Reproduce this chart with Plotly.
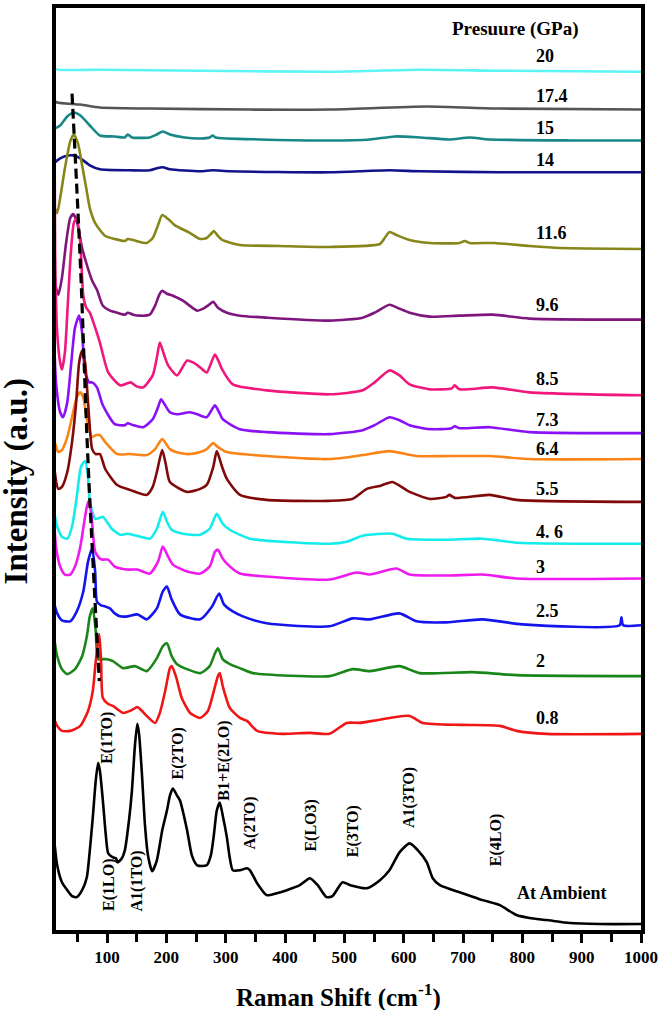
import plotly.graph_objects as go

FONT = "Liberation Serif, Times New Roman, serif"

# ---------------- data (Raman shift in cm^-1, intensity in a.u., stacked) ----------------
x_20 = [10, 12, 88, 257, 475, 627, 762, 1000]
y_20 = [874, 867, 866, 865, 864, 866, 865, 864]

x_174 = [11, 16, 55, 88, 172, 341, 475, 639, 762, 1000]
y_174 = [835, 833, 831, 828, 827, 826, 826, 829, 827, 826]

x_15 = [12, 21, 33, 44, 55, 71, 88, 113, 130, 135, 142, 172, 184, 194, 206, 231, 257, 273, 278, 283,
        358, 475, 543, 585, 627, 677, 711, 745, 880, 1000]
y_15 = [807, 810, 819, 823, 820, 810, 800, 799, 798, 801, 798, 798, 801, 804, 801, 798, 797, 798, 800, 798,
        796, 795, 796, 799, 798, 796, 798, 796, 795, 795]

x_14 = [11, 16, 29, 43, 55, 71, 88, 139, 172, 184, 194, 206, 257, 278, 307, 475, 576, 627, 762, 1000]
y_14 = [772, 775, 779, 780, 777, 770, 766, 765, 765, 767, 768, 766, 764, 765, 764, 763, 765, 764, 763, 763]

x_116 = [12, 16, 21, 29, 38, 44, 51, 58, 65, 71, 80, 97, 113, 130, 135, 144, 156, 167, 177, 186, 193, 203,
         214, 240, 257, 268, 275, 280, 287, 294, 324, 391, 475, 560, 568, 576, 588, 610, 644, 694, 703, 711,
         753, 812, 863, 1000]
y_116 = [727, 722, 737, 767, 794, 801, 792, 770, 747, 727, 712, 699, 696, 694, 696, 695, 693, 692, 697, 710,
         720, 716, 710, 702, 696, 697, 701, 704, 699, 695, 690, 689, 688, 691, 697, 703, 700, 695, 692, 692,
         694, 692, 692, 689, 687, 686]

x_96 = [12, 18, 24, 31, 38, 43, 49, 58, 66, 75, 83, 93, 105, 117, 130, 135, 144, 156, 172, 181, 188, 193,
        201, 211, 228, 252, 262, 272, 279, 287, 302, 324, 369, 475, 531, 551, 576, 593, 610, 644, 694, 750,
        812, 1000]
y_96 = [652, 640, 657, 692, 717, 721, 714, 687, 670, 654, 645, 629, 624, 622, 620, 622, 620, 619, 620, 629,
        640, 644, 641, 639, 634, 624, 626, 630, 633, 627, 622, 619, 617, 614, 617, 622, 630, 626, 622, 618,
        619, 620, 616, 615]

x_85 = [11, 12.5, 16, 21, 24, 29, 34, 39, 44, 49, 55, 60, 65, 71, 80, 88, 102, 122, 134, 140, 150, 161, 177,
        184, 189, 196, 203, 218, 235, 245, 257, 268, 277, 282, 289, 294, 312, 369, 475, 531, 551, 576, 593,
        610, 644, 681, 686, 694, 750, 812, 1000]
y_85 = [862, 682, 602, 572, 565, 582, 632, 682, 712, 717, 692, 639, 627, 622, 607, 592, 562, 549, 551, 552,
        548, 547, 559, 577, 592, 580, 569, 559, 574, 572, 567, 562, 574, 580, 572, 565, 550, 544, 540, 544,
        552, 564, 559, 550, 545, 546, 549, 545, 547, 542, 539]

x_73 = [11, 14, 21, 26, 33, 39, 46, 53, 58, 63, 70, 75, 83, 93, 113, 130, 135, 144, 161, 177, 186, 191, 198,
        206, 218, 240, 252, 268, 277, 282, 289, 295, 324, 369, 475, 531, 551, 576, 593, 610, 644, 681, 686,
        694, 745, 812, 1000]
y_73 = [592, 552, 522, 517, 532, 567, 607, 619, 602, 562, 552, 552, 547, 529, 510, 509, 511, 509, 507, 515,
        527, 535, 529, 522, 520, 522, 520, 517, 525, 529, 522, 515, 505, 502, 500, 504, 509, 517, 514, 509,
        505, 506, 508, 506, 507, 502, 501]

x_64 = [10, 12, 18, 24, 33, 41, 49, 55, 60, 66, 75, 81, 88, 97, 117, 139, 167, 181, 193, 206, 223, 240, 257,
        268, 279, 287, 302, 369, 475, 531, 576, 622, 681, 745, 812, 1000]
y_64 = [512, 492, 482, 484, 497, 517, 537, 542, 537, 515, 497, 499, 499, 492, 480, 480, 479, 485, 495, 485,
        481, 480, 482, 485, 491, 487, 482, 478, 475, 479, 483, 478, 478, 478, 475, 475]

x_55 = [10, 12, 18, 24, 33, 41, 48, 53, 58, 63, 68, 75, 81, 88, 97, 117, 139, 167, 177, 184, 193, 199, 206,
        235, 257, 268, 279, 285, 294, 302, 324, 369, 475, 514, 538, 560, 581, 610, 644, 672, 677, 686, 745,
        790, 1000]
y_55 = [492, 462, 445, 447, 462, 492, 532, 572, 584, 572, 532, 485, 480, 480, 465, 449, 444, 439, 447, 462,
        484, 470, 452, 442, 445, 449, 467, 483, 467, 455, 439, 434, 433, 435, 445, 448, 452, 442, 435, 437,
        439, 436, 439, 434, 432]

x_46 = [10, 16, 24, 33, 41, 49, 56, 63, 68, 71, 80, 88, 93, 102, 108, 122, 135, 156, 172, 184, 194, 201, 209,
        228, 257, 273, 285, 295, 307, 341, 475, 504, 531, 581, 605, 672, 733, 790, 1000]
y_46 = [425, 407, 397, 395, 407, 437, 467, 473, 457, 432, 415, 416, 417, 410, 405, 399, 400, 397, 395, 405,
        422, 412, 404, 400, 399, 405, 420, 410, 404, 395, 390, 392, 398, 400, 395, 394, 395, 391, 390]

x_3 = [10, 14, 21, 29, 38, 46, 55, 63, 68, 73, 80, 88, 93, 102, 113, 134, 151, 172, 186, 194, 203, 211, 235,
       257, 273, 282, 287, 294, 302, 324, 369, 475, 521, 543, 588, 610, 672, 733, 790, 1000]
y_3 = [422, 387, 367, 359, 359, 367, 387, 417, 432, 422, 382, 375, 374, 374, 367, 364, 364, 360, 372, 387,
       377, 369, 362, 360, 367, 382, 384, 376, 370, 360, 357, 354, 361, 359, 365, 359, 358, 359, 355, 355]

x_25 = [10, 16, 24, 38, 49, 60, 68, 75, 80, 83, 90, 97, 105, 113, 122, 135, 151, 167, 184, 194, 201, 209,
        223, 257, 277, 289, 297, 312, 329, 369, 475, 514, 543, 593, 622, 672, 733, 800, 964, 967, 970, 1000]
y_25 = [332, 320, 313, 312, 322, 342, 372, 385, 362, 332, 328, 327, 325, 320, 317, 317, 319, 314, 325, 342,
        347, 334, 319, 314, 327, 340, 329, 322, 317, 310, 307, 315, 314, 320, 312, 311, 314, 309, 308, 316,
        308, 308]

x_2 = [10, 16, 24, 33, 46, 58, 66, 71, 76, 81, 85, 93, 100, 110, 127, 147, 167, 184, 194, 201, 209, 218, 257,
       273, 282, 287, 295, 307, 324, 346, 475, 514, 543, 593, 627, 716, 790, 1000]
y_2 = [299, 277, 264, 259, 264, 277, 297, 317, 325, 302, 274, 274, 274, 272, 265, 267, 262, 275, 287, 290,
       277, 269, 260, 267, 280, 285, 274, 269, 265, 260, 257, 264, 262, 267, 260, 261, 258, 257]

x_08 = [10, 16, 24, 38, 55, 68, 76, 81, 87, 90, 93, 102, 110, 127, 142, 151, 159, 167, 181, 189, 198, 206,
        209, 216, 226, 240, 257, 270, 280, 287, 290, 295, 307, 324, 336, 353, 396, 442, 475, 504, 526, 548,
        610, 632, 699, 762, 790, 841, 1000]
y_08 = [215, 207, 202, 202, 207, 222, 242, 272, 299, 272, 235, 229, 227, 220, 223, 226, 222, 217, 210, 220,
        242, 265, 267, 257, 235, 220, 215, 222, 242, 257, 260, 247, 225, 215, 212, 202, 199, 200, 199, 210,
        210, 212, 217, 210, 208, 207, 202, 199, 199]

x_amb = [11, 16, 24, 33, 41, 49, 58, 66, 71, 76, 81, 85, 88, 93, 98, 102, 110, 115, 118, 125, 130, 137, 142,
         147, 151, 154, 159, 164, 169, 176, 184, 193, 201, 206, 211, 218, 223, 235, 243, 252, 268, 275, 280,
         285, 290, 295, 302, 307, 312, 324, 336, 341, 353, 369, 386, 403, 425, 442, 455, 470, 480, 497, 510,
         538, 560, 576, 593, 610, 624, 639, 649, 661, 699, 733, 762, 790, 812, 841, 880, 930, 1000]
y_amb = [92, 67, 50, 42, 36, 35, 42, 55, 82, 115, 152, 170, 162, 132, 97, 79, 75, 74, 70, 74, 82, 112, 142,
         187, 209, 199, 157, 107, 77, 61, 72, 102, 122, 137, 144, 137, 132, 102, 77, 67, 67, 77, 97, 122, 130,
         117, 95, 74, 62, 62, 64, 62, 49, 37, 39, 42, 47, 54, 47, 35, 36, 50, 47, 44, 52, 62, 80, 89, 82, 70,
         54, 47, 39, 32, 27, 17, 14, 12, 9, 8, 8]

# peak-shift guide (dashed)
x_guide = [41, 55, 68, 87]
y_guide = [842, 672, 472, 252]

series_x = [x_20, x_174, x_15, x_14, x_116, x_96, x_85, x_73, x_64, x_55, x_46, x_3, x_25, x_2, x_08, x_amb]
series_y = [y_20, y_174, y_15, y_14, y_116, y_96, y_85, y_73, y_64, y_55, y_46, y_3, y_25, y_2, y_08, y_amb]
pressure_labels = ["20", "17.4", "15", "14", "11.6", "9.6", "8.5", "7.3", "6.4", "5.5", "4. 6", "3",
                   "2.5", "2", "0.8", "At Ambient"]

# mode labels
mode_labels = ["E(1TO)", "E(1LO)", "A1(1TO)", "E(2TO)", "B1+E(2LO)", "A(2TO)", "E(LO3)", "E(3TO)",
               "A1(3TO)", "E(4LO)"]

tick_vals = [100, 200, 300, 400, 500, 600, 700, 800, 900, 1000]

# ---------------- styling ----------------
colors = ["#5cf4f4", "#555555", "#178787", "#12128a", "#86861a", "#7e167e", "#f0187c", "#8a10f5",
          "#fb8418", "#800a0a", "#14ecec", "#ee1aee", "#1414ec", "#1a861a", "#f01616", "#000000"]

label_pos_y = [880, 840, 807, 775, 702, 630, 555, 514, 485, 445, 402, 367, 322, 272, 215]
mode_pos = [(100, 195), (103, 47), (151, 51), (219, 179), (297, 172), (341, 109), (444, 107), (516, 101),
            (608, 135), (757, 92)]

fig = go.Figure()
for xs, ys, c, name in zip(series_x, series_y, colors, pressure_labels):
    fig.add_trace(go.Scatter(x=xs, y=ys, mode="lines", name=name,
                             line=dict(color=c, width=2.6, shape="spline", smoothing=0.6),
                             showlegend=False, hoverinfo="skip"))

fig.add_trace(go.Scatter(x=x_guide, y=y_guide, mode="lines", showlegend=False, hoverinfo="skip",
                         line=dict(color="black", width=3.2, dash="10px,5px", shape="spline")))

bold = dict(family=FONT, color="black", weight="bold")

ann = []
ann.append(dict(x=787, y=907, xref="x", yref="y", text="Presuure (GPa)", showarrow=False,
                font=dict(size=19, **bold), xanchor="center", yanchor="middle"))
for lab, yy in zip(pressure_labels[:-1], label_pos_y):
    ann.append(dict(x=820, y=yy, xref="x", yref="y", text=lab, showarrow=False,
                    font=dict(size=18, **bold), xanchor="left", yanchor="middle"))
ann.append(dict(x=867, y=39, xref="x", yref="y", text="At Ambient", showarrow=False,
                font=dict(size=18, **bold), xanchor="center", yanchor="middle"))
for lab, (mx, my) in zip(mode_labels, mode_pos):
    ann.append(dict(x=mx, y=my, xref="x", yref="y", text=lab, showarrow=False, textangle=-90,
                    font=dict(size=16, **bold), xanchor="center", yanchor="middle"))
ann.append(dict(x=0.483, y=-0.0713, xref="paper", yref="paper", text="Raman Shift (cm<sup>-1</sup>)",
                showarrow=False, font=dict(size=25, **bold), xanchor="center", yanchor="middle"))
ann.append(dict(x=-0.066, y=0.487, xref="paper", yref="paper", text="Intensity (a.u.)",
                showarrow=False, textangle=-90, font=dict(size=33, **bold),
                xanchor="center", yanchor="middle"))

fig.update_layout(
    width=662, height=1010,
    margin=dict(l=56, r=20, t=4, b=80),
    paper_bgcolor="white", plot_bgcolor="white",
    annotations=ann,
    xaxis=dict(range=[14, 1000], showgrid=False, zeroline=False,
               showline=True, linecolor="black", linewidth=4, mirror=True,
               tickvals=tick_vals, ticks="outside", ticklen=9, tickwidth=3, tickcolor="black",
               tickfont=dict(size=17, **bold),
               minor=dict(tickvals=[50, 150, 250, 350, 450, 550, 650, 750, 850, 950],
                          ticks="outside", ticklen=8, tickwidth=3, tickcolor="black")),
    yaxis=dict(range=[2, 928], showgrid=False, zeroline=False, showticklabels=False, ticks="",
               showline=True, linecolor="black", linewidth=4, mirror=True),
)

fig.write_html("out.html", config={"displayModeBar": False},
               post_script="document.body.style.margin='0px';document.body.style.overflow='hidden';")
